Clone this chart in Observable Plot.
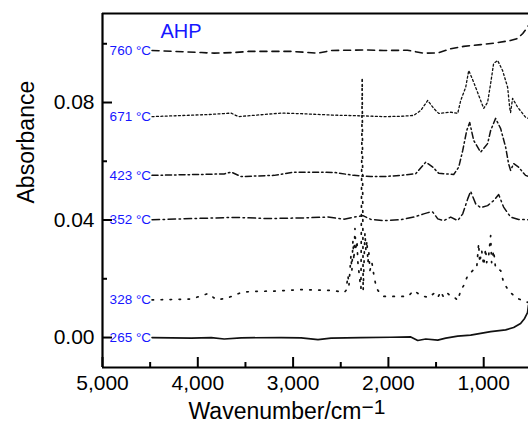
<!DOCTYPE html>
<html><head><meta charset="utf-8">
<script src="https://cdn.jsdelivr.net/npm/d3@7"></script>
<script src="https://cdn.jsdelivr.net/npm/@observablehq/plot@0.6"></script>
<style>body{margin:0;background:#fff;overflow:hidden}</style>
</head><body><div id="chart"></div>
<script>
// ---- data ----
const seriesLabels = ["760 °C", "671 °C", "423 °C", "352 °C", "328 °C", "265 °C"];
const panelTitle = "AHP";
const xTitle = "Wavenumber/cm";
const xTitleSup = "−1";
const yTitle = "Absorbance";

const wn760 = [4480, 3960, 3830, 3620, 3470, 3020, 2740, 2600, 2215, 2050, 1800, 1630, 1480, 1345, 1210, 1030, 895, 720, 645, 590, 550, 530];
const ab760 = [0.0977, 0.0970, 0.0968, 0.0970, 0.0974, 0.0974, 0.0968, 0.0977, 0.0979, 0.0977, 0.0978, 0.0968, 0.0969, 0.0983, 0.0991, 0.0997, 0.1002, 0.1011, 0.1018, 0.1035, 0.1052, 0.1062];

const wn671 = [4480, 3890, 3650, 3575, 3125, 2915, 2570, 2320, 2045, 1870, 1735, 1660, 1587, 1525, 1472, 1346, 1273, 1241, 1189, 1157, 1105, 1032, 1000, 959, 927, 896, 854, 802, 749, 728, 718, 697, 644, 561, 530];
const ab671 = [0.0752, 0.0759, 0.0764, 0.0752, 0.0764, 0.0762, 0.0757, 0.0755, 0.0752, 0.0753, 0.0756, 0.0773, 0.0807, 0.0780, 0.0763, 0.0767, 0.0763, 0.0807, 0.0852, 0.0909, 0.0869, 0.0807, 0.0780, 0.0801, 0.0865, 0.0933, 0.0943, 0.0909, 0.0852, 0.0784, 0.0766, 0.0814, 0.0784, 0.0750, 0.0746];

const wn423 = [4480, 3995, 3723, 3649, 3545, 3199, 2990, 2571, 2362, 2184, 2047, 1870, 1712, 1608, 1534, 1472, 1315, 1262, 1220, 1178, 1147, 1105, 1032, 959, 927, 875, 822, 770, 739, 718, 686, 634, 561, 530];
const ab423 = [0.0552, 0.0555, 0.0557, 0.0563, 0.0548, 0.0552, 0.0563, 0.0562, 0.0552, 0.0548, 0.0548, 0.0552, 0.0558, 0.0597, 0.0580, 0.0559, 0.0555, 0.0580, 0.0637, 0.0705, 0.0732, 0.0671, 0.0631, 0.0660, 0.0705, 0.0746, 0.0711, 0.0648, 0.0592, 0.0569, 0.0592, 0.0580, 0.0552, 0.0548];

const wn352 = [4480, 3827, 3618, 3262, 2916, 2634, 2466, 2362, 2267, 2184, 2047, 1870, 1733, 1629, 1576, 1534, 1482, 1419, 1346, 1273, 1220, 1168, 1137, 1084, 1032, 959, 896, 843, 791, 718, 634, 530];
const ab352 = [0.0401, 0.0407, 0.0409, 0.0405, 0.0407, 0.0410, 0.0403, 0.0410, 0.0415, 0.0402, 0.0398, 0.0401, 0.0410, 0.0421, 0.0426, 0.0427, 0.0404, 0.0398, 0.0410, 0.0398, 0.0421, 0.0472, 0.0498, 0.0455, 0.0442, 0.0449, 0.0466, 0.0487, 0.0444, 0.0410, 0.0402, 0.0401];

const wn328 = [4480, 4068, 3890, 3806, 3702, 3545, 3440, 3199, 2916, 2571, 2466, 2445, 2424, 2414, 2393, 2383, 2372, 2362, 2351, 2341, 2330, 2320, 2299, 2288, 2275, 2265, 2246, 2236, 2225, 2215, 2205, 2194, 2173, 2152, 2131, 2110, 2047, 1870, 1796, 1733, 1660, 1576, 1524, 1482, 1451, 1419, 1377, 1346, 1304, 1273, 1241, 1210, 1168, 1116, 1074, 1053, 1042, 1021, 1000, 980, 969, 948, 927, 917, 896, 875, 822, 791, 739, 665, 592, 530];
const ab328 = [0.0128, 0.0131, 0.0150, 0.0129, 0.0133, 0.0153, 0.0157, 0.0158, 0.0163, 0.0160, 0.0153, 0.0160, 0.0211, 0.0177, 0.0279, 0.0228, 0.0330, 0.0262, 0.0371, 0.0296, 0.0330, 0.0255, 0.0194, 0.0167, 0.0882, 0.0160, 0.0357, 0.0296, 0.0330, 0.0255, 0.0289, 0.0228, 0.0255, 0.0211, 0.0177, 0.0160, 0.0140, 0.0140, 0.0140, 0.0160, 0.0143, 0.0136, 0.0150, 0.0136, 0.0157, 0.0136, 0.0150, 0.0140, 0.0136, 0.0126, 0.0160, 0.0177, 0.0211, 0.0228, 0.0235, 0.0320, 0.0255, 0.0296, 0.0245, 0.0303, 0.0255, 0.0279, 0.0347, 0.0255, 0.0296, 0.0235, 0.0228, 0.0187, 0.0160, 0.0136, 0.0126, 0.0119];

const wn265 = [4480, 4068, 3859, 3723, 3545, 3126, 2916, 2739, 2602, 2288, 1974, 1765, 1692, 1608, 1482, 1398, 1273, 1137, 927, 770, 686, 613, 571, 540, 530];
const ab265 = [0.0000, -0.0002, 0.0000, -0.0005, -0.0001, 0.0000, -0.0001, -0.0007, -0.0002, 0.0000, 0.0001, 0.0002, -0.0010, -0.0005, -0.0009, -0.0002, 0.0005, 0.0008, 0.0020, 0.0026, 0.0034, 0.0048, 0.0065, 0.0085, 0.0110];

const xTicks = [5000, 4000, 3000, 2000, 1000];
const xMinorTicks = [4500, 3500, 2500, 1500];
const yTicks = [0, 0.04, 0.08];
const yMinorTicks = [0.02, 0.06, 0.10];
const xDomain = [5000, 530];
const yDomain = [-0.0102, 0.1103];

// ---- build ----
const wns = [wn760, wn671, wn423, wn352, wn328, wn265];
const abs = [ab760, ab671, ab423, ab352, ab328, ab265];
const dashes = ["7,5", "2,2.4", "6,3,1.5,3", "7.5,3.5,1.5,3.5", "1.5,7.5", null];
const widths = [1.6, 1.3, 1.5, 1.5, 1.7, 1.7];
const blue = "#1717ff";

const W = 528, H = 429, mL = 102, mR = 0, mT = 13, mB = 62;
const plotW = W - mL - mR, plotH = H - mT - mB;

const lineMarks = seriesLabels.map((lab, i) =>
  Plot.line(wns[i].map((w, j) => ({w, a: abs[i][j]})), {
    x: "w", y: "a", stroke: "#111", strokeWidth: widths[i],
    strokeDasharray: dashes[i] || undefined, strokeLinejoin: "round"
  })
);

const labelData = seriesLabels.map((lab, i) => ({lab, w: wns[i][0], a: abs[i][0]}));

const svg = Plot.plot({
  width: W, height: H,
  marginLeft: mL, marginRight: mR, marginTop: mT, marginBottom: mB,
  style: {fontFamily: "'Liberation Sans', Arial, Helvetica, sans-serif", fontSize: "21px", background: "#fff", color: "#000"},
  x: {domain: xDomain},
  y: {domain: yDomain},
  marks: [
    ...lineMarks,
    Plot.ruleX([xDomain[0]], {strokeWidth: 2.2}),
    Plot.ruleY(yDomain, {strokeWidth: 2.2}),
    Plot.tickX(xTicks, {x: d => d, insetTop: plotH - 10, strokeWidth: 2}),
    Plot.tickX(xMinorTicks, {x: d => d, insetTop: plotH - 5, strokeWidth: 2}),
    Plot.tickY(yTicks, {y: d => d, insetRight: plotW - 10, strokeWidth: 2}),
    Plot.tickY(yMinorTicks, {y: d => d, insetRight: plotW - 5, strokeWidth: 2}),
    Plot.axisX({ticks: xTicks, tickSize: 0, tickPadding: 8, tickFormat: d3.format(","), label: null, fontSize: 21}),
    Plot.axisY({ticks: yTicks, tickSize: 0, tickPadding: 8, tickFormat: d3.format(".2f"), label: null, fontSize: 21}),
    Plot.text(labelData, {x: "w", y: "a", text: "lab", textAnchor: "end", dx: -1, fill: blue, fontSize: 13.5}),
    Plot.text([panelTitle], {text: d => d, frameAnchor: "top-left", dx: 58, dy: 10, textAnchor: "start", lineAnchor: "top", fontSize: 20, fill: blue}),
    Plot.text([yTitle], {text: d => d, frameAnchor: "left", rotate: -90, dx: -76, dy: 13, fontSize: 23}),
    Plot.text([xTitle], {text: d => d, frameAnchor: "bottom", textAnchor: "start", dx: -127, dy: 51, fontSize: 23})
  ]
});

d3.select(svg).selectAll("text").filter(function () { return this.textContent === xTitle; })
  .each(function () {
    d3.select(this).append("tspan").attr("dy", "-5").attr("font-size", "21").text(xTitleSup);
  });

document.getElementById("chart").appendChild(svg);
</script>
</body></html>
